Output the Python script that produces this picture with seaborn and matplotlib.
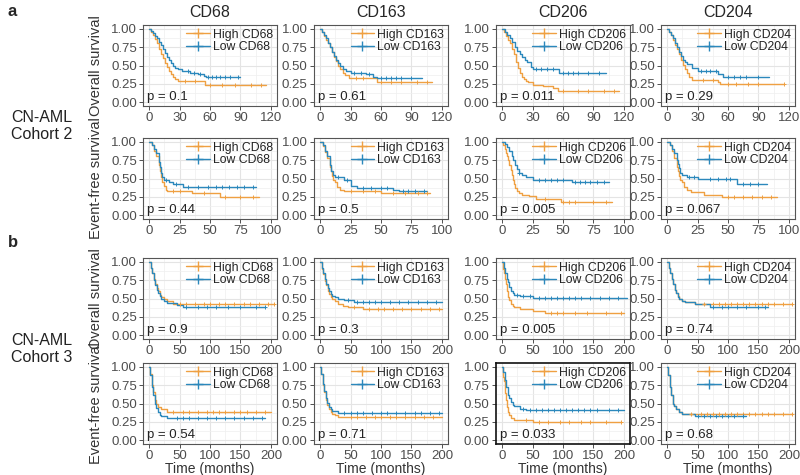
import matplotlib
matplotlib.use("Agg")
import matplotlib.pyplot as plt
from matplotlib.lines import Line2D
from matplotlib.ticker import MultipleLocator
import numpy as np
import seaborn as sns

# --- panel labels -------------------------------------------------------
markers = ["CD68", "CD163", "CD206", "CD204"]
row_ylabels = ["Overall survival", "Event-free survival",
               "Overall survival", "Event-free survival"]
row_xmax = [120, 100, 200, 200]
row_xstep = [30, 25, 50, 50]
p_values = [["0.1", "0.61", "0.011", "0.29"],
            ["0.44", "0.5", "0.005", "0.067"],
            ["0.9", "0.3", "0.005", "0.74"],
            ["0.54", "0.71", "0.033", "0.68"]]

# --- KM curves: (time, survival) steps + censor times ---
# Cohort 2, overall survival
os2_cd68_high = [(0, 1), (2, .96), (4, .92), (6, .86), (8, .80), (10, .72), (12, .66), (14, .60), (16, .54), (18, .48), (20, .43), (22, .39), (24, .35), (26, .32), (28, .29), (55, .24), (115, .24)]
os2_cd68_high_c = [35, 45, 60, 72, 85, 100, 110]
os2_cd68_low = [(0, 1), (2, .97), (4, .94), (6, .90), (8, .87), (10, .82), (12, .78), (14, .72), (16, .67), (18, .62), (20, .58), (22, .54), (24, .50), (26, .47), (28, .45), (32, .42), (40, .40), (48, .38), (54, .36), (56, .34), (90, .34)]
os2_cd68_low_c = [38, 44, 50, 58, 62, 66, 70, 75, 80, 88]
os2_cd163_high = [(0, 1), (2, .95), (4, .90), (6, .85), (8, .80), (10, .75), (12, .68), (14, .62), (16, .56), (18, .50), (20, .45), (23, .40), (25, .37), (28, .33), (56, .28), (110, .28)]
os2_cd163_high_c = [35, 42, 60, 70, 80, 95, 105]
os2_cd163_low = [(0, 1), (2, .96), (4, .92), (6, .87), (8, .80), (10, .75), (12, .69), (14, .63), (16, .58), (18, .53), (20, .50), (23, .45), (26, .42), (30, .40), (45, .38), (52, .35), (56, .33), (100, .33)]
os2_cd163_low_c = [33, 40, 48, 60, 65, 70, 75, 80, 90]
os2_cd206_high = [(0, 1), (2, .95), (4, .90), (6, .85), (8, .80), (10, .72), (12, .65), (14, .55), (16, .47), (18, .40), (20, .35), (22, .32), (24, .29), (26, .27), (30, .24), (40, .22), (50, .20), (55, .16), (115, .16)]
os2_cd206_high_c = [60, 75, 85, 100, 110]
os2_cd206_low = [(0, 1), (3, .95), (5, .92), (8, .87), (10, .82), (13, .75), (15, .70), (18, .65), (20, .62), (23, .58), (25, .55), (28, .48), (30, .45), (56, .40), (102, .40)]
os2_cd206_low_c = [33, 38, 44, 50, 60, 65, 70, 75, 85, 95]
os2_cd204_high = [(0, 1), (2, .96), (4, .91), (6, .85), (8, .78), (10, .72), (12, .65), (14, .58), (16, .51), (18, .45), (20, .40), (22, .35), (25, .30), (50, .28), (52, .25), (115, .25)]
os2_cd204_high_c = [35, 45, 60, 68, 80, 90, 115]
os2_cd204_low = [(0, 1), (2, .96), (4, .92), (6, .87), (8, .80), (10, .75), (12, .69), (14, .63), (16, .58), (18, .55), (20, .52), (25, .47), (30, .43), (45, .42), (50, .38), (55, .34), (100, .34)]
os2_cd204_low_c = [33, 38, 42, 48, 60, 66, 72, 78, 90]

# Cohort 2, event-free survival
efs2_cd68_high = [(0, 1), (2, .95), (4, .88), (6, .80), (8, .68), (9, .60), (10, .52), (11, .45), (12, .40), (14, .35), (15, .33), (35, .30), (58, .25), (90, .25)]
efs2_cd68_high_c = [20, 25, 45, 62, 75, 85]
efs2_cd68_low = [(0, 1), (2, .96), (4, .90), (6, .85), (8, .72), (9, .65), (10, .58), (11, .52), (12, .48), (16, .45), (20, .42), (28, .38), (88, .38)]
efs2_cd68_low_c = [14, 22, 32, 40, 48, 55, 60, 66, 72, 78, 85]
efs2_cd163_high = [(0, 1), (2, .94), (4, .86), (6, .78), (8, .66), (9, .60), (10, .54), (11, .48), (12, .45), (14, .38), (16, .35), (20, .33), (50, .30), (90, .30)]
efs2_cd163_high_c = [25, 35, 45, 60, 70, 80, 88]
efs2_cd163_low = [(0, 1), (2, .95), (4, .88), (6, .80), (8, .68), (9, .60), (11, .55), (12, .52), (20, .48), (25, .40), (30, .37), (60, .35), (65, .33), (88, .33)]
efs2_cd163_low_c = [15, 22, 35, 42, 50, 55, 68, 72, 78, 85]
efs2_cd206_high = [(0, 1), (1, .95), (2, .90), (3, .85), (4, .80), (5, .75), (6, .68), (7, .62), (8, .55), (9, .48), (10, .42), (11, .37), (12, .33), (14, .30), (16, .28), (22, .26), (28, .22), (48, .18), (90, .18)]
efs2_cd206_high_c = [35, 50, 55, 60, 75, 85]
efs2_cd206_low = [(0, 1), (2, .97), (4, .93), (6, .88), (8, .80), (9, .75), (11, .68), (12, .63), (14, .58), (16, .55), (20, .52), (25, .48), (57, .45), (88, .45)]
efs2_cd206_low_c = [14, 30, 35, 40, 45, 50, 60, 64, 68, 72, 78, 84]
efs2_cd204_high = [(0, 1), (2, .95), (4, .88), (6, .78), (8, .66), (9, .60), (10, .54), (11, .48), (12, .45), (14, .39), (16, .35), (20, .31), (30, .28), (45, .25), (90, .25)]
efs2_cd204_high_c = [50, 55, 62, 70, 78, 85]
efs2_cd204_low = [(0, 1), (2, .96), (4, .90), (6, .85), (8, .75), (9, .70), (10, .64), (11, .58), (12, .55), (16, .52), (25, .50), (57, .43), (82, .43)]
efs2_cd204_low_c = [18, 22, 35, 42, 48, 52, 62, 68, 75]

# Cohort 3, overall survival
os3_cd68_high = [(0, 1), (3, .92), (5, .85), (8, .76), (10, .70), (13, .64), (15, .60), (18, .55), (20, .52), (25, .49), (30, .46), (40, .43), (60, .42), (205, .42)]
os3_cd68_high_c = [50, 60, 75, 90, 100, 115, 125, 140, 155, 165, 180, 195, 205]
os3_cd68_low = [(0, 1), (3, .92), (5, .85), (8, .75), (10, .68), (13, .62), (15, .58), (18, .53), (20, .50), (25, .47), (30, .44), (45, .41), (55, .39), (190, .39)]
os3_cd68_low_c = [60, 80, 95, 110, 130, 150, 175, 190]
os3_cd163_high = [(0, 1), (3, .90), (5, .83), (8, .74), (10, .68), (13, .60), (15, .56), (18, .52), (20, .50), (25, .46), (30, .43), (38, .40), (45, .38), (70, .36), (200, .36)]
os3_cd163_high_c = [55, 80, 95, 105, 120, 135, 150, 165, 180, 195]
os3_cd163_low = [(0, 1), (3, .91), (5, .85), (8, .76), (10, .70), (13, .64), (15, .60), (18, .56), (20, .54), (25, .52), (30, .50), (40, .48), (55, .45), (200, .45)]
os3_cd163_low_c = [45, 60, 70, 80, 90, 100, 115, 130, 145, 160, 175, 190]
os3_cd206_high = [(0, 1), (2, .90), (3, .85), (5, .76), (6, .70), (8, .60), (10, .52), (12, .48), (15, .43), (18, .40), (20, .38), (30, .36), (50, .33), (70, .30), (200, .30)]
os3_cd206_high_c = [80, 90, 100, 120, 140, 170, 195]
os3_cd206_low = [(0, 1), (3, .91), (5, .85), (8, .77), (10, .72), (12, .66), (15, .60), (18, .57), (20, .55), (30, .53), (50, .51), (205, .51)]
os3_cd206_low_c = [25, 35, 45, 60, 70, 80, 90, 100, 110, 120, 130, 145, 160, 175, 190]
os3_cd204_high = [(0, 1), (3, .92), (5, .85), (8, .76), (10, .70), (13, .62), (15, .58), (18, .53), (20, .50), (25, .47), (30, .45), (45, .43), (205, .43)]
os3_cd204_high_c = [60, 75, 85, 95, 105, 115, 125, 135, 145, 155, 165, 175, 190, 205]
os3_cd204_low = [(0, 1), (3, .92), (5, .85), (8, .76), (10, .70), (13, .61), (15, .57), (18, .52), (20, .50), (25, .47), (30, .45), (45, .42), (70, .38), (165, .38)]
os3_cd204_low_c = [75, 90, 100, 115, 130, 150, 160]

# Cohort 3, event-free survival
efs3_cd68_high = [(0, 1), (2, .90), (4, .80), (5, .75), (7, .66), (10, .55), (12, .50), (15, .45), (20, .42), (30, .39), (60, .38), (200, .38)]
efs3_cd68_high_c = [40, 55, 65, 80, 95, 105, 115, 125, 140, 150, 160, 175, 190]
efs3_cd68_low = [(0, 1), (2, .89), (4, .78), (5, .72), (7, .62), (10, .50), (12, .44), (15, .38), (18, .35), (20, .33), (30, .30), (190, .30)]
efs3_cd68_low_c = [45, 55, 65, 80, 95, 110, 125, 140, 155, 170, 185]
efs3_cd163_high = [(0, 1), (2, .90), (4, .80), (5, .75), (7, .66), (10, .55), (12, .48), (15, .42), (18, .38), (20, .36), (25, .34), (30, .32), (60, .31), (200, .31)]
efs3_cd163_high_c = [50, 60, 75, 90, 100, 115, 125, 140, 155, 170, 185]
efs3_cd163_low = [(0, 1), (2, .90), (4, .81), (5, .76), (7, .67), (10, .57), (12, .51), (15, .45), (18, .42), (20, .40), (30, .37), (200, .37)]
efs3_cd163_low_c = [40, 50, 60, 70, 85, 100, 110, 125, 140, 155, 165, 180, 195]
efs3_cd206_high = [(0, 1), (1, .93), (2, .86), (3, .80), (4, .72), (5, .64), (6, .55), (8, .45), (10, .38), (12, .34), (15, .30), (20, .28), (25, .27), (50, .25), (195, .25)]
efs3_cd206_high_c = [40, 60, 75, 95, 110, 130, 145, 170, 195]
efs3_cd206_low = [(0, 1), (2, .93), (4, .86), (5, .82), (7, .73), (10, .62), (12, .57), (15, .52), (18, .48), (20, .46), (30, .43), (40, .41), (200, .41)]
efs3_cd206_low_c = [35, 45, 55, 65, 75, 85, 95, 105, 115, 125, 135, 145, 155, 175, 190]
efs3_cd204_high = [(0, 1), (2, .89), (4, .78), (5, .72), (7, .62), (10, .50), (12, .46), (15, .42), (20, .38), (25, .36), (205, .36)]
efs3_cd204_high_c = [40, 55, 65, 75, 85, 95, 105, 115, 125, 135, 145, 155, 165, 175, 190, 205]
efs3_cd204_low = [(0, 1), (2, .89), (4, .78), (5, .72), (7, .62), (10, .50), (12, .46), (15, .42), (20, .38), (25, .36), (45, .33), (130, .33)]
efs3_cd204_low_c = [50, 60, 70, 80, 90, 100, 110, 125]

curves = [
    [(os2_cd68_high, os2_cd68_high_c, os2_cd68_low, os2_cd68_low_c),
     (os2_cd163_high, os2_cd163_high_c, os2_cd163_low, os2_cd163_low_c),
     (os2_cd206_high, os2_cd206_high_c, os2_cd206_low, os2_cd206_low_c),
     (os2_cd204_high, os2_cd204_high_c, os2_cd204_low, os2_cd204_low_c)],
    [(efs2_cd68_high, efs2_cd68_high_c, efs2_cd68_low, efs2_cd68_low_c),
     (efs2_cd163_high, efs2_cd163_high_c, efs2_cd163_low, efs2_cd163_low_c),
     (efs2_cd206_high, efs2_cd206_high_c, efs2_cd206_low, efs2_cd206_low_c),
     (efs2_cd204_high, efs2_cd204_high_c, efs2_cd204_low, efs2_cd204_low_c)],
    [(os3_cd68_high, os3_cd68_high_c, os3_cd68_low, os3_cd68_low_c),
     (os3_cd163_high, os3_cd163_high_c, os3_cd163_low, os3_cd163_low_c),
     (os3_cd206_high, os3_cd206_high_c, os3_cd206_low, os3_cd206_low_c),
     (os3_cd204_high, os3_cd204_high_c, os3_cd204_low, os3_cd204_low_c)],
    [(efs3_cd68_high, efs3_cd68_high_c, efs3_cd68_low, efs3_cd68_low_c),
     (efs3_cd163_high, efs3_cd163_high_c, efs3_cd163_low, efs3_cd163_low_c),
     (efs3_cd206_high, efs3_cd206_high_c, efs3_cd206_low, efs3_cd206_low_c),
     (efs3_cd204_high, efs3_cd204_high_c, efs3_cd204_low, efs3_cd204_low_c)],
]

HIGH = "#EFA042"
LOW = "#2B88BC"

sns.set_theme(style="white")
plt.rcParams["font.family"] = ["Liberation Sans", "DejaVu Sans"]


def step_value(steps, t):
    ts = np.array([s[0] for s in steps])
    ss = np.array([s[1] for s in steps])
    i = np.searchsorted(ts, t, side="right") - 1
    return ss[max(i, 0)]


def draw_curve(ax, steps, cens, color):
    t = [s[0] for s in steps]
    s = [s[1] for s in steps]
    sns.lineplot(x=t, y=s, ax=ax, color=color, lw=1.0, estimator=None,
                 drawstyle="steps-post", sort=False)
    sns.scatterplot(x=cens, y=[step_value(steps, c) for c in cens], ax=ax,
                    marker="+", s=12, color=color, linewidth=0.7, zorder=4)


fig = plt.figure(figsize=(8, 4.75), dpi=100)
W, H = 800, 475
col_left = [143, 314, 496, 661]
row_top = [25, 138, 258, 363]
aw, ah = 134, 81

for r in range(4):
    for c in range(4):
        ax = fig.add_axes([col_left[c] / W, 1 - (row_top[r] + ah) / H, aw / W, ah / H])
        hi, hi_c, lo, lo_c = curves[r][c]
        draw_curve(ax, hi, hi_c, HIGH)
        draw_curve(ax, lo, lo_c, LOW)
        xm = row_xmax[r]
        ax.set_xlim(-0.05 * xm, 1.05 * xm)
        ax.set_ylim(-0.05, 1.05)
        ax.xaxis.set_major_locator(MultipleLocator(row_xstep[r]))
        ax.xaxis.set_minor_locator(MultipleLocator(row_xstep[r] / 2))
        ax.yaxis.set_minor_locator(MultipleLocator(0.125))
        ax.set_yticks([0, .25, .5, .75, 1])
        ax.set_yticklabels(["0.00", "0.25", "0.50", "0.75", "1.00"])
        ax.grid(which="major", color="#E4E4E4", lw=0.8)
        ax.grid(which="minor", color="#EFEFEF", lw=0.5)
        ax.set_axisbelow(True)
        ax.tick_params(which="major", length=3, width=0.6, color="#333333",
                       labelsize=9.5, labelcolor="#4D4D4D", pad=1.5,
                       bottom=True, left=True)
        ax.tick_params(which="minor", length=0)
        edge = "#111111" if (r == 3 and c == 2) else "#555555"
        for sp in ax.spines.values():
            sp.set_color(edge)
            sp.set_linewidth(1.2 if (r == 3 and c == 2) else 0.8)
        ax.text(0.03, 0.11, f"p = {p_values[r][c]}", transform=ax.transAxes,
                fontsize=9.5, color="#222222", va="center")
        handles = [Line2D([], [], color=HIGH, lw=1.0, marker="+", ms=7, mew=1),
                   Line2D([], [], color=LOW, lw=1.0, marker="+", ms=7, mew=1)]
        ax.legend(handles, [f"High {markers[c]}", f"Low {markers[c]}"],
                  loc="upper right", frameon=False, fontsize=8.8,
                  handlelength=1.9, handletextpad=0.3, labelspacing=0.05,
                  borderpad=0.1, borderaxespad=0.2, labelcolor="#222222")
        ax.set_xlabel("Time (months)" if r == 3 else "", fontsize=10,
                      color="#333333", labelpad=0)
        if c == 0:
            ax.set_ylabel(row_ylabels[r], fontsize=10.5, color="#333333",
                          labelpad=6)
        else:
            ax.set_ylabel("")
        if r == 0:
            ax.set_title(markers[c], fontsize=11.5, pad=6)

fig.text(8 / W, 1 - 12 / H, "a", fontsize=12, fontweight="bold", va="center")
fig.text(8 / W, 1 - 243 / H, "b", fontsize=12, fontweight="bold", va="center")
fig.text(42 / W, 1 - 126 / H, "CN-AML\nCohort 2", fontsize=11.5, ha="center",
         va="center", color="#222222", linespacing=1.1)
fig.text(42 / W, 1 - 349 / H, "CN-AML\nCohort 3", fontsize=11.5, ha="center",
         va="center", color="#222222", linespacing=1.1)

fig.savefig("out.png", dpi=100)
